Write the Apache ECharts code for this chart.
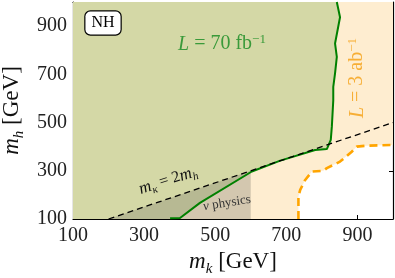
<!DOCTYPE html>
<html>
<head>
<meta charset="utf-8">
<script src="https://cdn.jsdelivr.net/npm/echarts@6/dist/echarts.min.js"></script>
<style>
html,body{margin:0;padding:0;background:#fff;}
#c{width:395px;height:278px;}
</style>
</head>
<body>
<div id="c"></div>
<script>
// ---- data ----
const xTicks = [100, 300, 500, 700, 900];
const yTicks = [100, 300, 500, 700, 900];
// L = 70 fb^-1 exclusion contour (m_k, m_h)
const greenBoundary = [[842,1000],[851,937],[837,828],[842,772],[837,704],[832,648],[832,592],[828,483],[825,428],[814,390],[781,386],[683,342],[603,297],[457,167],[401,104],[373,103]];
// L = 3 ab^-1 contour
const orangeBoundary = [[734,100],[734,193],[739,221],[753,262],[772,297],[804,300],[814,311],[851,338],[884,379],[898,400],[926,404],[1000,407]];
// nu physics region
const nuRegion = [[200,100],[600,300],[600,100]];
// m_kappa = 2 m_h line
const ratioLine = [[200,100],[1000,500]];

const orangePoly = [].concat(orangeBoundary, [[1000,1000],[100,1000],[100,100]]);
const greenPoly = [[100,1000]].concat(greenBoundary, [[373,100],[100,100]]);

const FONT = 'Liberation Serif';

function polySeries(pts, fill, z) {
  return {
    type: 'custom', z: z, silent: true, animation: false,
    data: pts,
    encode: {x: 0, y: 1},
    renderItem: function (params, api) {
      if (params.dataIndex !== 0) return null;
      return {
        type: 'polygon',
        shape: {points: pts.map(function (p) { return api.coord(p); })},
        style: {fill: fill, stroke: null}
      };
    }
  };
}
function lineSeries(pts, style, z) {
  return {
    type: 'line', z: z, silent: true, animation: false,
    data: pts, showSymbol: false, symbol: 'none',
    lineStyle: style
  };
}

const axisCommon = {
  type: 'value', min: 100, max: 1000,
  axisLine: {show: true, onZero: false, lineStyle: {color: '#000', width: 1.2}},
  splitLine: {show: false}
};
const nameRich = {
  i: {fontFamily: FONT, fontStyle: 'italic', fontSize: 23, color: '#111', verticalAlign: 'bottom'},
  sub: {fontFamily: FONT, fontStyle: 'italic', fontSize: 15, color: '#111', verticalAlign: 'bottom', padding: [0,0,-3,0]}
};

const chart = echarts.init(document.getElementById('c'), null, {renderer: 'canvas'});
chart.setOption({
  animation: false,
  grid: {left: 73, right: 2, top: 2, bottom: 59, containLabel: false, outerBoundsMode: 'none'},
  xAxis: [
    Object.assign({}, axisCommon, {
      position: 'bottom',
      axisTick: {show: true, inside: true, length: 4, customValues: xTicks, lineStyle: {color: '#000', width: 1}},
      axisLabel: {customValues: xTicks, fontFamily: FONT, fontSize: 20, color: '#222', margin: 7},
      name: '{i|m}{sub|k} [GeV]', nameLocation: 'middle', nameGap: 29,
      nameTextStyle: {fontFamily: FONT, fontSize: 23, color: '#111', rich: nameRich}
    }),
    Object.assign({}, axisCommon, {
      position: 'top',
      axisTick: {show: true, inside: true, length: 4, customValues: xTicks, lineStyle: {color: '#000', width: 1}},
      axisLabel: {show: false}
    })
  ],
  yAxis: [
    Object.assign({}, axisCommon, {
      position: 'left',
      axisTick: {show: true, inside: true, length: 4, customValues: yTicks, lineStyle: {color: '#000', width: 1}},
      axisLabel: {customValues: yTicks, fontFamily: FONT, fontSize: 20, color: '#222', margin: 6},
      name: '{i|m}{sub|h} [GeV]', nameLocation: 'middle', nameGap: 46, nameRotate: 90,
      nameTextStyle: {fontFamily: FONT, fontSize: 23, color: '#111', rich: nameRich}
    }),
    Object.assign({}, axisCommon, {
      position: 'right',
      axisTick: {show: true, inside: true, length: 4, customValues: yTicks, lineStyle: {color: '#000', width: 1}},
      axisLabel: {show: false}
    })
  ],
  series: [
    polySeries(orangePoly, '#feedd0', 1),
    polySeries(greenPoly, '#d4d8a6', 2),
    polySeries(nuRegion, 'rgba(128,126,110,0.34)', 3),
    lineSeries(orangeBoundary, {color: '#ffa500', width: 2.6, type: [8, 5]}, 5),
    lineSeries(greenBoundary, {color: '#008000', width: 2}, 6),
    lineSeries(ratioLine, {color: '#000', width: 1.3, type: [6, 4]}, 7)
  ],
  graphic: [
    {type: 'text', x: 103, y: 23, z: 20,
      style: {text: 'NH', font: '16px "Liberation Serif"', fill: '#000', align: 'center', verticalAlign: 'middle',
        backgroundColor: '#fff', borderColor: '#000', borderWidth: 1.2, borderRadius: 5, padding: [4, 6, 3, 6]}},
    {type: 'text', x: 222, y: 44, z: 20,
      style: {text: '{i|L} = 70 fb{s|−1}', align: 'center', verticalAlign: 'middle',
        font: '20px "Liberation Serif"', fill: '#3a9a3a',
        rich: {i: {fontFamily: FONT, fontStyle: 'italic', fontSize: 20, fill: '#3a9a3a', lineHeight: 22, verticalAlign: 'bottom'},
               s: {fontFamily: FONT, fontSize: 13, fill: '#3a9a3a', verticalAlign: 'top', lineHeight: 22}}}},
    {type: 'text', x: 357, y: 78, z: 20, rotation: Math.PI / 2,
      style: {text: '{i|L} = 3 ab{s|−1}', align: 'center', verticalAlign: 'middle',
        font: '20px "Liberation Serif"', fill: '#f7ae35',
        rich: {i: {fontFamily: FONT, fontStyle: 'italic', fontSize: 20, fill: '#f7ae35', lineHeight: 22, verticalAlign: 'bottom'},
               s: {fontFamily: FONT, fontSize: 13, fill: '#f7ae35', verticalAlign: 'top', lineHeight: 22}}}},
    {type: 'text', x: 168, y: 180, z: 20, rotation: 18 * Math.PI / 180,
      style: {text: '{i|m}{sub|κ} = 2{i|m}{sub|h}', align: 'center', verticalAlign: 'middle',
        font: '16px "Liberation Serif"', fill: '#111',
        rich: {i: {fontFamily: FONT, fontStyle: 'italic', fontSize: 17, fill: '#111', lineHeight: 18, verticalAlign: 'bottom'},
               sub: {fontFamily: FONT, fontStyle: 'italic', fontSize: 11, fill: '#111', lineHeight: 18, verticalAlign: 'bottom', padding: [0,0,-2,0]}}}},
    {type: 'text', x: 227, y: 203, z: 20, rotation: 9 * Math.PI / 180,
      style: {text: '{i|ν} physics', align: 'center', verticalAlign: 'middle',
        font: '13px "Liberation Serif"', fill: '#333',
        rich: {i: {fontFamily: FONT, fontStyle: 'italic', fontSize: 13, fill: '#333'}}}}
  ]
});
</script>
</body>
</html>
